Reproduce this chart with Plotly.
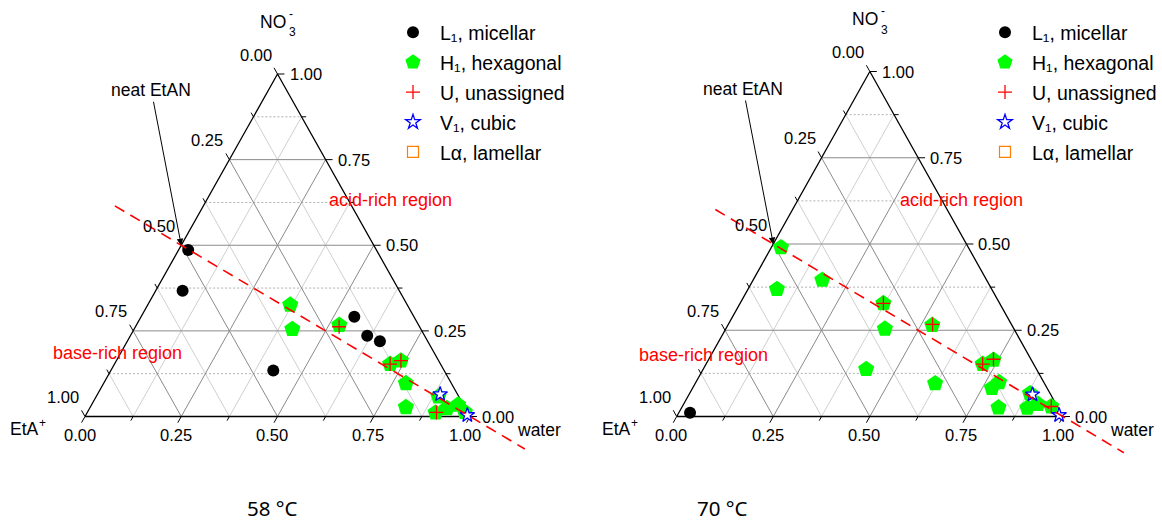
import numpy as np
import plotly.graph_objects as go

FONT = "Liberation Sans, Arial, sans-serif"
FIG_W, FIG_H = 1162, 522

# ---------------------------------------------------------------------------
# Phase-point compositions (mole fractions of EtA+, NO3-, water)
# ---------------------------------------------------------------------------
# 58 °C
l1_58_eta = [0.489, 0.563, 0.444, 0.155, 0.149, 0.124]
l1_58_no3 = [0.486, 0.367, 0.134, 0.291, 0.236, 0.220]
l1_58_water = [0.025, 0.070, 0.422, 0.554, 0.615, 0.656]

h1_58_eta = [0.304, 0.334, 0.206, 0.131, 0.098, 0.118, 0.153, 0.053, 0.084, 0.048, 0.014, 0.007]
h1_58_no3 = [0.326, 0.255, 0.267, 0.153, 0.163, 0.097, 0.027, 0.058, 0.011, 0.024, 0.034, 0.013]
h1_58_water = [0.370, 0.411, 0.527, 0.716, 0.739, 0.785, 0.820, 0.889, 0.905, 0.928, 0.952, 0.980]

u_58_eta = [0.209, 0.131, 0.098, 0.081]
u_58_no3 = [0.262, 0.153, 0.163, 0.012]
u_58_water = [0.529, 0.716, 0.739, 0.907]

v1_58_eta = [0.045, 0.005]
v1_58_no3 = [0.065, 0.004]
v1_58_water = [0.890, 0.991]

# 70 °C
l1_70_eta = [0.960]
l1_70_no3 = [0.011]
l1_70_water = [0.029]

h1_70_eta = [0.485, 0.556, 0.425, 0.441, 0.301, 0.334, 0.206, 0.283, 0.132,
             0.098, 0.116, 0.143, 0.154, 0.052, 0.080, 0.047, 0.016]
h1_70_no3 = [0.490, 0.369, 0.396, 0.137, 0.328, 0.254, 0.265, 0.096, 0.152,
             0.164, 0.099, 0.082, 0.026, 0.067, 0.025, 0.036, 0.029]
h1_70_water = [0.025, 0.075, 0.179, 0.422, 0.371, 0.412, 0.529, 0.621, 0.716,
               0.738, 0.785, 0.775, 0.820, 0.881, 0.895, 0.917, 0.955]

u_70_eta = [0.301, 0.204, 0.132, 0.097, 0.016]
u_70_no3 = [0.328, 0.267, 0.152, 0.166, 0.029]
u_70_water = [0.371, 0.529, 0.716, 0.737, 0.955]

v1_70_eta = [0.047, 0.008]
v1_70_no3 = [0.064, 0.004]
v1_70_water = [0.889, 0.988]

# Stoichiometric line EtA+ = NO3- (neat EtAN diluted with water), water extent
guide_water_58 = [-0.23, 1.19]
guide_water_70 = [-0.20, 1.21]

# Axis ticks
tick_major = [0.0, 0.25, 0.5, 0.75, 1.0]
tick_minor = [0.125, 0.375, 0.625, 0.875]
tick_text = ["0.00", "0.25", "0.50", "0.75", "1.00"]
grid_major = [0.25, 0.5, 0.75]

# Legend entries
phase_names = ["L\u2081, micellar", "H\u2081, hexagonal",
               "U, unassigned", "V\u2081, cubic", "L\u03b1, lamellar"]


def to_xy(eta, no3, water):
    """Ternary composition -> cartesian (water corner right, NO3 corner top)."""
    eta, no3, water = (np.asarray(v, dtype=float) for v in (eta, no3, water))
    total = eta + no3 + water
    return (water + no3 / 2.0) / total, no3 / total


def segments(pairs):
    xs, ys = [], []
    for (c0, c1) in pairs:
        x, y = to_xy(*zip(c0, c1))
        xs += list(x) + [None]
        ys += list(y) + [None]
    return xs, ys


def iso_lines(kind, values):
    pairs = []
    for v in values:
        if kind == "no3":
            pairs.append(((1 - v, v, 0), (0, v, 1 - v)))
        elif kind == "water":
            pairs.append(((1 - v, 0, v), (0, 1 - v, v)))
        else:
            pairs.append(((v, 1 - v, 0), (v, 0, 1 - v)))
    return pairs


def tick_pairs(values, t):
    pairs = []
    for v in values:
        pairs.append(((v, 1 - v, 0), (v, 1 - v + t, -t)))          # EtA+ ticks, left edge
        pairs.append(((1 - v, 0, v), (1 - v + t, -t, v)))          # water ticks, bottom edge
        pairs.append(((0, v, 1 - v), (-t, v, 1 - v + t)))          # NO3- ticks, right edge
    return pairs


# Panel geometry: triangle base-left corner, base width, baseline and height (px)
panels = [
    dict(xa="x", ya="y", dom=[0.0, 0.5], x0=85.0, w=385.0, base=416.5, h=342.5,
         legend="legend", label="58 \u00b0C",
         data=dict(l1=(l1_58_eta, l1_58_no3, l1_58_water),
                   h1=(h1_58_eta, h1_58_no3, h1_58_water),
                   u=(u_58_eta, u_58_no3, u_58_water),
                   v1=(v1_58_eta, v1_58_no3, v1_58_water)),
         guide=guide_water_58),
    dict(xa="x2", ya="y2", dom=[0.5, 1.0], x0=676.7, w=386.3, base=416.5, h=345.0,
         legend="legend2", label="70 \u00b0C",
         data=dict(l1=(l1_70_eta, l1_70_no3, l1_70_water),
                   h1=(h1_70_eta, h1_70_no3, h1_70_water),
                   u=(u_70_eta, u_70_no3, u_70_water),
                   v1=(v1_70_eta, v1_70_no3, v1_70_water)),
         guide=guide_water_70),
]

styles = {
    "l1": dict(symbol="circle", color="black", size=12, line=dict(width=0)),
    "h1": dict(symbol="pentagon", color="#00ff00", size=17, line=dict(width=0)),
    "u": dict(symbol="cross-thin", color="red", size=10, line=dict(width=1.3, color="red")),
    "v1": dict(symbol="star", color="white", size=11, line=dict(width=1.3, color="blue")),
    "la": dict(symbol="square-open", color="#ff8000", size=11, line=dict(width=1.2, color="#ff8000")),
}

fig = go.Figure()
annotations = []


def paper_text(x_px, y_px, text, size, xanchor="center", color="black", family=FONT):
    return dict(x=x_px / FIG_W, y=1 - y_px / FIG_H, xref="paper", yref="paper",
                xanchor=xanchor, yanchor="middle", showarrow=False, text=text,
                font=dict(family=family, size=size, color=color))


for p in panels:
    xa, ya = p["xa"], p["ya"]
    common = dict(xaxis=xa, yaxis=ya, hoverinfo="skip", showlegend=False)

    # minor grid
    for kind in ("eta", "water"):
        gx, gy = segments(iso_lines(kind, tick_minor))
        fig.add_trace(go.Scatter(x=gx, y=gy, mode="lines",
                                 line=dict(color="#c9c9c9", width=0.9), **common))
    gx, gy = segments(iso_lines("no3", tick_minor))
    fig.add_trace(go.Scatter(x=gx, y=gy, mode="lines",
                             line=dict(color="#b0b0b0", width=1, dash="2px,2px"), **common))
    # major grid
    for kind in ("eta", "water", "no3"):
        gx, gy = segments(iso_lines(kind, grid_major))
        fig.add_trace(go.Scatter(x=gx, y=gy, mode="lines",
                                 line=dict(color="#8a8a8a", width=1), **common))
    # ticks
    for vals, t in ((tick_major, 0.018), (tick_minor, 0.012)):
        tx, ty = segments(tick_pairs(vals, t))
        fig.add_trace(go.Scatter(x=tx, y=ty, mode="lines",
                                 line=dict(color="black", width=1), **common))
    # triangle frame
    fx, fy = to_xy([1, 0, 0, 1], [0, 1, 0, 0], [0, 0, 1, 0])
    fig.add_trace(go.Scatter(x=fx, y=fy, mode="lines",
                             line=dict(color="black", width=1.3), **common))

    # phase points
    for key, name in zip(["l1", "h1", "u", "v1", "la"], phase_names):
        if key in p["data"]:
            px, py = to_xy(*p["data"][key])
        else:
            px, py = [None], [None]
        fig.add_trace(go.Scatter(
            x=px, y=py, mode="markers", name=name, marker=styles[key],
            xaxis=xa, yaxis=ya, legend=p["legend"], legendgroup=p["legend"] + key,
            hoverinfo="skip", cliponaxis=False))

    # EtA+ = NO3- line
    gw = np.asarray(p["guide"])
    lx, ly = to_xy((1 - gw) / 2, (1 - gw) / 2, gw)
    fig.add_trace(go.Scatter(x=lx, y=ly, mode="lines",
                             line=dict(color="red", width=1.6, dash="11px,7px"), **common))

    # axis ranges so that the triangle lands at its pixel geometry
    dom_px = [p["dom"][0] * FIG_W, p["dom"][1] * FIG_W]
    p["xrange"] = [(d - p["x0"]) / p["w"] for d in dom_px]
    p["yrange"] = [(p["base"] - FIG_H) / p["h"], p["base"] / p["h"]]

    ref = dict(xref=xa, yref=ya, showarrow=False, xanchor="center", yanchor="middle",
               font=dict(family=FONT, size=16.5, color="black"))
    # tick labels
    for v, txt in zip(tick_major, tick_text):
        x, y = to_xy(v, 1 - v, 0)
        annotations.append(dict(x=float(x), y=float(y), text=txt, xshift=-22, yshift=19.5, **ref))
        x, y = to_xy(1 - v, 0, v)
        annotations.append(dict(x=float(x), y=float(y), text=txt, xshift=-5.5, yshift=-18.5, **ref))
        x, y = to_xy(0, v, 1 - v)
        annotations.append(dict(x=float(x), y=float(y), text=txt, xshift=28, yshift=0, **ref))

    # corner (component) labels; charges and subscripts set as small separate text
    top_x, top_y = p["x0"] + p["w"] / 2, p["base"] - p["h"]
    annotations.append(paper_text(top_x - 19.5, top_y - 52, "NO", 17.5, xanchor="left"))
    annotations.append(paper_text(top_x + 9, top_y - 41.5, "3", 12, xanchor="left"))
    annotations.append(paper_text(top_x + 13, top_y - 60, "-", 12))
    annotations.append(paper_text(p["x0"] - 77, p["base"] + 12.5, "EtA", 17.5, xanchor="left"))
    annotations.append(paper_text(p["x0"] - 48, p["base"] + 6.5, "+", 12, xanchor="left"))
    annotations.append(paper_text(p["x0"] + p["w"] + 69, p["base"] + 13.5, "water", 17.5))

    # neat EtAN arrow
    x, y = to_xy(0.5, 0.5, 0)
    annotations.append(dict(x=float(x), y=float(y), xref=xa, yref=ya, text="neat EtAN",
                            showarrow=True, arrowhead=2, arrowsize=1.3, arrowwidth=1,
                            arrowcolor="black", ax=-30, ay=-155, standoff=0,
                            font=dict(family=FONT, size=17.5, color="black")))

# Region labels and temperature captions
for cx, cy, txt in ((390, 200, "acid-rich region"), (961, 200, "acid-rich region"),
                    (117, 353, "base-rich region"), (703, 355, "base-rich region")):
    annotations.append(paper_text(cx, cy, txt, 18, color="red"))
for p, cx in zip(panels, (272, 722)):
    annotations.append(paper_text(cx, 508, p["label"], 20.5, family="Noto Sans, sans-serif"))

legend_style = dict(xanchor="left", yanchor="top", bgcolor="rgba(0,0,0,0)",
                    borderwidth=0, itemwidth=44, tracegroupgap=1.6,
                    font=dict(family=FONT, size=19.5, color="black"))

fig.update_layout(
    width=FIG_W, height=FIG_H, autosize=False,
    margin=dict(l=0, r=0, t=0, b=0),
    paper_bgcolor="white", plot_bgcolor="white",
    xaxis=dict(domain=panels[0]["dom"], range=panels[0]["xrange"], visible=False, fixedrange=True),
    yaxis=dict(domain=[0, 1], range=panels[0]["yrange"], visible=False, fixedrange=True),
    xaxis2=dict(domain=panels[1]["dom"], range=panels[1]["xrange"], visible=False, fixedrange=True),
    yaxis2=dict(domain=[0, 1], range=panels[1]["yrange"], visible=False, fixedrange=True,
                anchor="x2"),
    legend=dict(x=386 / FIG_W, y=1 - 13 / FIG_H, **legend_style),
    legend2=dict(x=978 / FIG_W, y=1 - 13 / FIG_H, **legend_style),
    annotations=annotations,
)

fig.write_html("out.html")
